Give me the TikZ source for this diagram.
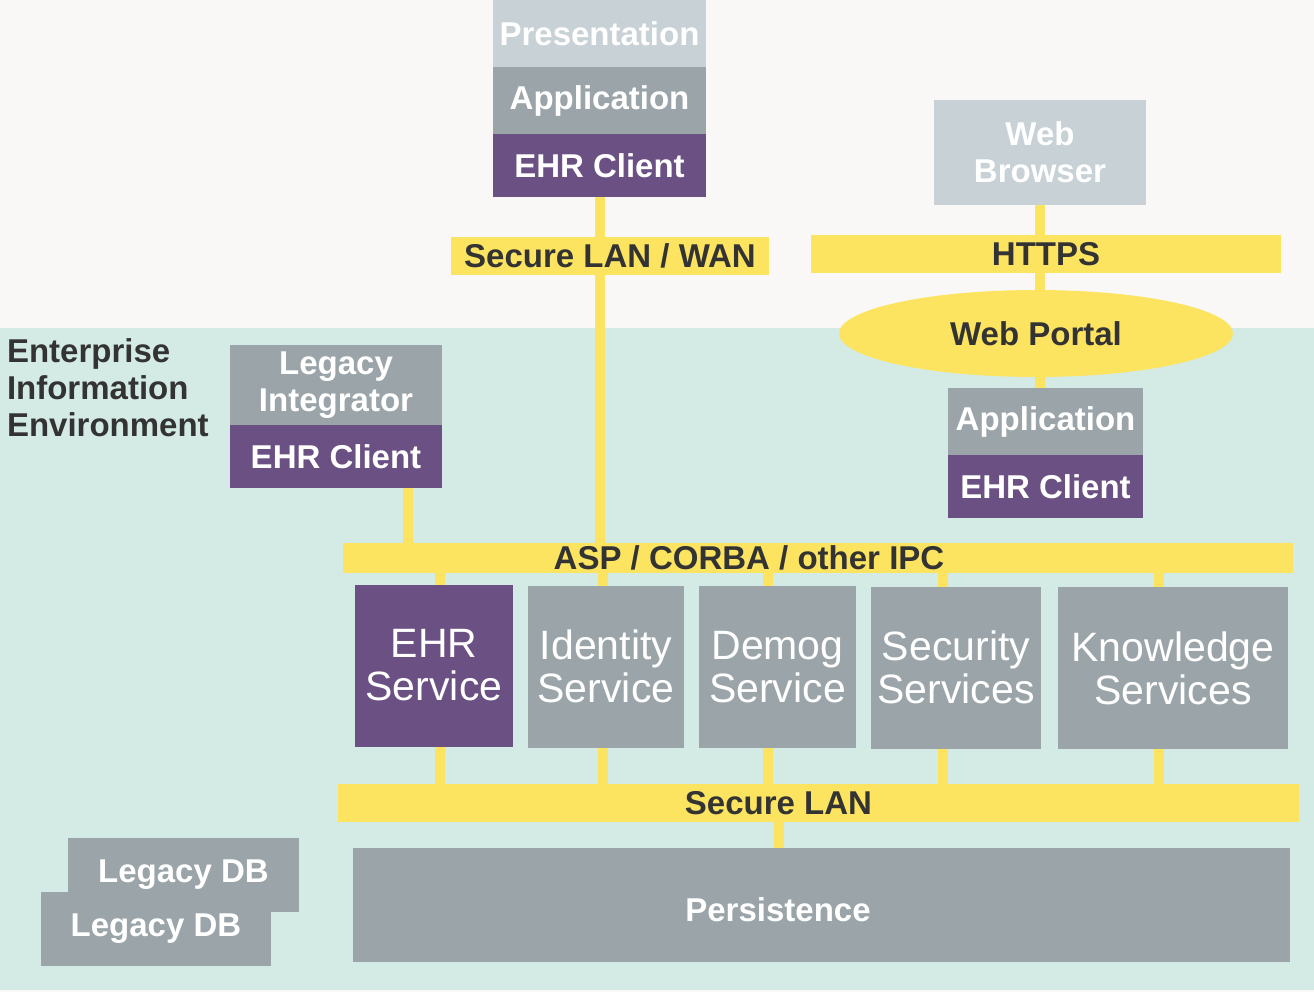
\documentclass[tikz,border=0pt]{standalone}
\usepackage{fontspec}
\setmainfont{Liberation Sans}
\usetikzlibrary{positioning,backgrounds,shapes.geometric}
\definecolor{paper}{HTML}{F9F8F6}
\definecolor{mint}{HTML}{D4EBE5}
\definecolor{busy}{HTML}{FCE460}
\definecolor{pale}{HTML}{C8D1D6}
\definecolor{slate}{HTML}{9BA5A9}
\definecolor{plum}{HTML}{6B5083}
\definecolor{ink}{HTML}{333333}

\begin{document}
\begin{tikzpicture}[x=1pt,y=-1pt,
        every node/.style={inner sep=0pt,outer sep=0pt,align=center,font=\bfseries\fontsize{33}{37}\selectfont},
        palebox/.style={fill=pale,text=white},
        slatebox/.style={fill=slate,text=white},
        plumbox/.style={fill=plum,text=white},
        svc/.style={minimum height=162,text=white,font=\fontsize{41}{43}\selectfont},
        bus/.style={fill=busy,text=ink},
        wire/.style={draw=busy,line width=10}]
        \useasboundingbox(0,0)rectangle(1314,992);
        \begin{scope}[on background layer]
            \fill[paper](0,0)rectangle(1314,992);
            \fill[mint](0,328)rectangle(1314,990);
        \end{scope}
        \node[palebox,minimum width=213,minimum height=67](pres)at(599.5,33.5){Presentation};
        \node[slatebox,minimum width=213,minimum height=67,below=0pt of pres](app1){Application};
        \node[plumbox,minimum width=213,minimum height=63,below=0pt of app1](cli1){EHR Client};
        \node[bus,minimum width=318,minimum height=38](lanwan)at(610,256){Secure LAN / WAN};
        \node[palebox,minimum width=212,minimum height=105](browser)at(1040,152.5){Web\\Browser};
        \node[bus,minimum width=470,minimum height=38](https)at(1046,254){HTTPS};
        \node[bus,ellipse,minimum width=394,minimum height=87](portal)at(1036,333.5){Web Portal};
        \node[slatebox,minimum width=195,minimum height=67](app2)at(1045.5,421.5){Application};
        \node[plumbox,minimum width=195,minimum height=63,below=0pt of app2](cli2){EHR Client};
        \node[text=ink,align=left,anchor=west](eie)at(7,388){Enterprise\\Information\\Environment};
        \node[slatebox,minimum width=212,minimum height=80](legint)at(336,385){Legacy\\Integrator};
        \node[plumbox,minimum width=212,minimum height=63,below=0pt of legint](cli3){EHR Client};
        \node[bus,minimum width=950,minimum height=30](asp)at(818,558){};
        \node[text=ink](asptext)at(749,558){ASP / CORBA / other IPC};
        \node[svc,fill=plum,minimum width=158](ehrsvc)at(434,665.5){EHR\\Service};
        \node[svc,fill=slate,minimum width=156](idsvc)at(606,666.5){Identity\\Service};
        \node[svc,fill=slate,minimum width=157](demsvc)at(777.5,667){Demog\\Service};
        \node[svc,fill=slate,minimum width=170](secsvc)at(956,667.5){Security\\Services};
        \node[svc,fill=slate,minimum width=230](knosvc)at(1173,668){Knowledge\\Services};
        \node[bus,minimum width=961,minimum height=38](slan)at(818.5,803){};
        \node[text=ink](slantext)at(778.5,803){Secure LAN};
        \node[slatebox,minimum width=937,minimum height=114](pers)at(821.5,905){};
        \node[text=white](perstext)at(778,910){Persistence};
        \node[slatebox,minimum width=231,minimum height=74](db1)at(183.5,875){Legacy DB};
        \node[slatebox,minimum width=230,minimum height=74](db2)at(156,929){Legacy DB};
        \begin{scope}[on background layer]
            \draw[wire](cli1.south)--(cli1.south|-asp.north);
            \draw[wire](browser.south)--(browser.south|-app2.north);
            \path([xshift=72]cli3.south)coordinate(li);
            \draw[wire](li)--(li|-asp.north);
            \foreach \s/\dx in {ehrsvc/6,idsvc/-3,demsvc/-10,secsvc/-13,knosvc/-14}{
                \path([xshift=\dx]\s.north)coordinate(tap);
                \draw[wire](tap|-asp.south)--(tap|-slan.north);
            }
            \draw[wire](slantext)--(slantext|-pers.north);
        \end{scope}
    \end{tikzpicture}
\end{document}
